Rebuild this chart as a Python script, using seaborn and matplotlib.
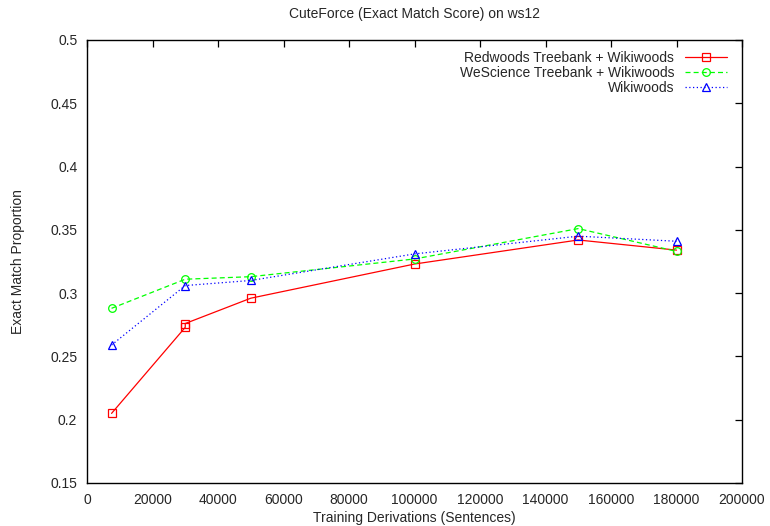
import matplotlib
matplotlib.use("Agg")
import matplotlib.pyplot as plt
import seaborn as sns

# data
redwoods_x = [7500, 30000, 30000, 50000, 100000, 150000, 180000]
redwoods_y = [0.205, 0.273, 0.276, 0.296, 0.323, 0.342, 0.334]

wescience_x = [7500, 30000, 50000, 100000, 150000, 180000]
wescience_y = [0.288, 0.311, 0.313, 0.327, 0.351, 0.333]

wiki_x = [7500, 30000, 50000, 100000, 150000, 180000]
wiki_y = [0.259, 0.306, 0.310, 0.331, 0.345, 0.341]

x_ticks = list(range(0, 200001, 20000))
y_ticks = [0.15, 0.2, 0.25, 0.3, 0.35, 0.4, 0.45, 0.5]

sns.set_style("white")
plt.rcParams['font.family'] = ['Liberation Sans', 'DejaVu Sans']
plt.rcParams['font.size'] = 10

fig, ax = plt.subplots(figsize=(7.7, 5.26), dpi=100)
fig.subplots_adjust(left=87 / 770, right=742 / 770, bottom=1 - 483 / 526, top=1 - 40 / 526)

series = [
    (redwoods_x, redwoods_y, "Redwoods Treebank + Wikiwoods", "#ff0000", "-", "s", 6),
    (wescience_x, wescience_y, "WeScience Treebank + Wikiwoods", "#00ff00", (0, (4, 2.5)), "o", 5.5),
    (wiki_x, wiki_y, "Wikiwoods", "#0000ff", (0, (1, 2)), "^", 5.5),
]

for xs, ys, name, col, ls, mk, ms in series:
    sns.lineplot(x=xs, y=ys, ax=ax, color=col, linestyle=ls, linewidth=0.9,
                 marker=mk, markersize=ms, markerfacecolor='none', markeredgecolor=col,
                 markeredgewidth=0.9, label=name, estimator=None, sort=False)

ax.set_xlim(0, 200000)
ax.set_ylim(0.15, 0.5)
ax.set_xticks(x_ticks)
ax.set_xticklabels([str(v) for v in x_ticks])
ax.set_yticks(y_ticks)
ax.set_yticklabels([f"{v:g}" for v in y_ticks])
ax.tick_params(direction='in', length=5, width=0.9, top=True, right=True, color='black', labelsize=10)
ax.tick_params(axis='x', pad=7)
ax.tick_params(axis='y', pad=7)
for sp in ax.spines.values():
    sp.set_color('black')
    sp.set_linewidth(1.0)

ax.set_title("CuteForce (Exact Match Score) on ws12", fontsize=10, pad=16)
ax.set_xlabel("Training Derivations (Sentences)", fontsize=10, labelpad=3)
ax.set_ylabel("Exact Match Proportion", fontsize=10, labelpad=18)

leg = ax.legend(loc='upper right', bbox_to_anchor=(0.99, 0.995), frameon=False,
                markerfirst=False, numpoints=1, handlelength=3.0, handletextpad=0.8,
                labelspacing=0.1, fontsize=10, borderaxespad=0.2)

fig.savefig("out.png", dpi=100)
